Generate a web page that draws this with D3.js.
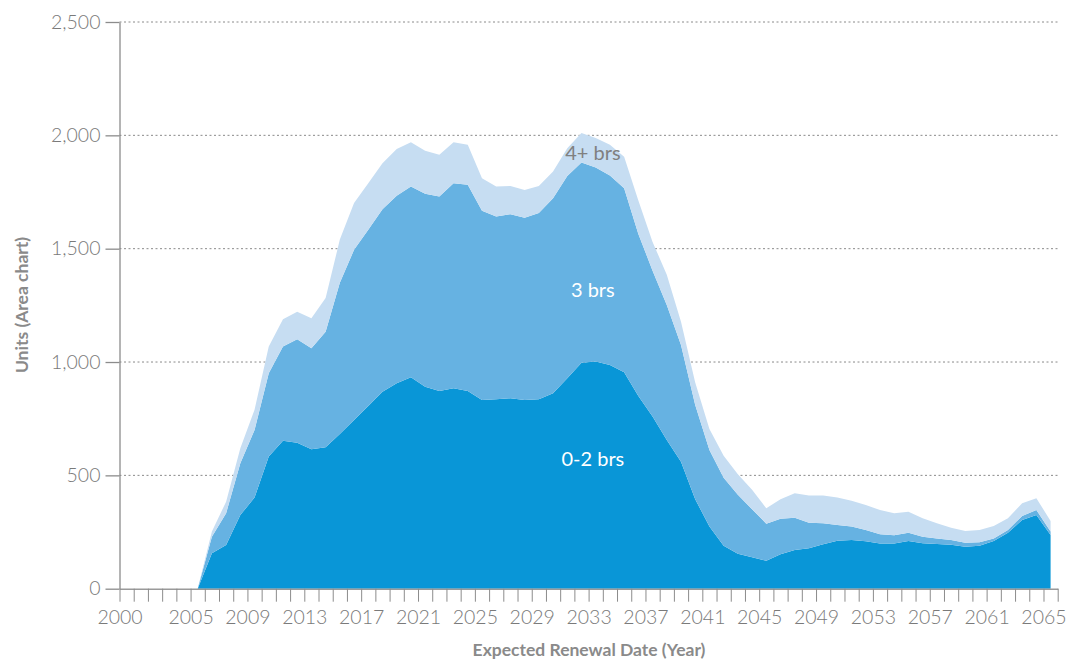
<!DOCTYPE html>
<html>
<head>
<meta charset="utf-8">
<script src="https://cdn.jsdelivr.net/npm/d3@7"></script>
<style>
  html, body { margin: 0; padding: 0; background: #fff; }
  svg { display: block; }
  text { font-family: Lato, "Open Sans", sans-serif; }
</style>
</head>
<body>
<svg id="chart" width="1070" height="659"></svg>
<script>
// ---- Data ----
const years = [
  2005,2006,2007,2008,2009,2010,2011,2012,2013,2014,
  2015,2016,2017,2018,2019,2020,2021,2022,2023,2024,
  2025,2026,2027,2028,2029,2030,2031,2032,2033,2034,
  2035,2036,2037,2038,2039,2040,2041,2042,2043,2044,
  2045,2046,2047,2048,2049,2050,2051,2052,2053,2054,
  2055,2056,2057,2058,2059,2060,2061,2062,2063,2064,2065
];
const zeroTwoBrs = [
  0,156,193,325,402,583,653,644,615,624,
  682,744,806,869,906,933,891,872,884,872,
  833,836,840,833,836,862,928,997,1002,987,
  955,850,760,656,560,395,274,190,154,139,
  123,152,171,178,196,212,215,209,199,199,
  210,200,197,194,185,190,210,247,303,325,237
];
const threeBrs = [
  0,73,140,228,298,367,415,457,446,510,
  668,751,777,805,827,841,851,858,905,910,
  834,806,812,804,821,861,893,883,856,836,
  812,715,643,596,515,415,338,300,260,212,
  164,157,142,113,93,69,59,50,41,37,
  37,29,24,21,18,15,12,12,18,22,15
];
const fourPlusBrs = [
  0,23,51,67,89,118,121,121,132,148,
  190,206,206,203,207,196,190,184,181,176,
  144,132,125,122,120,117,122,130,130,135,
  139,147,127,133,103,100,93,97,91,85,
  68,86,108,120,122,121,114,110,107,97,
  93,82,68,54,52,54,55,52,56,52,47
];
const seriesKeys = ["0-2 brs", "3 brs", "4+ brs"];
const seriesColors = ["#0996d7", "#66b2e2", "#c6ddf2"];
const yTicks = [0, 500, 1000, 1500, 2000, 2500];
const xTickLabels = [2000,2005,2009,2013,2017,2021,2025,2029,2033,2037,2041,2045,2049,2053,2057,2061,2065];
const xTickYears = d3.range(2000, 2067);

// ---- Build table ----
const rows = years.map((y, i) => ({
  year: y,
  "0-2 brs": zeroTwoBrs[i],
  "3 brs": threeBrs[i],
  "4+ brs": fourPlusBrs[i]
}));
const stacked = d3.stack().keys(seriesKeys)(rows);

// ---- Scales ----
const svg = d3.select("#chart");
const x = d3.scaleLinear().domain([2000, 2066]).range([119.5, 1057.7]);
const y = d3.scaleLinear().domain([0, 2500]).range([588.7, 22]);
const px = d => x(d.data.year + 0.5);

// ---- Gridlines ----
svg.append("g")
  .selectAll("line")
  .data(yTicks.filter(v => v > 0))
  .join("line")
  .attr("x1", x(2000)).attr("x2", 1060)
  .attr("y1", d => y(d)).attr("y2", d => y(d))
  .attr("stroke", "#8a8a8a")
  .attr("stroke-width", 1)
  .attr("stroke-dasharray", "2,2.5");

// ---- Areas ----
const area = d3.area()
  .x(px)
  .y0(d => y(d[0]))
  .y1(d => y(d[1]));

svg.append("g")
  .selectAll("path")
  .data(stacked)
  .join("path")
  .attr("fill", (d, i) => seriesColors[i])
  .attr("d", area);

// ---- Axes ----
const tickFont = "Lato, 'Open Sans', sans-serif";
const yAxis = d3.axisLeft(y)
  .tickValues(yTicks)
  .tickSize(14)
  .tickSizeOuter(0)
  .tickPadding(5)
  .tickFormat(d3.format(","));
const gy = svg.append("g").attr("transform", `translate(${x(2000)},0)`).call(yAxis);
gy.select(".domain").attr("stroke", "#8c8c8c").attr("stroke-width", 1.3);
gy.selectAll(".tick line").attr("stroke", "#8c8c8c").attr("stroke-width", 1.3);
gy.selectAll(".tick text")
  .attr("fill", "#7a7a7a")
  .attr("font-size", 19.5)
  .attr("font-weight", 300)
  .style("font-family", tickFont);

const xAxis = d3.axisBottom(x)
  .tickValues(xTickYears)
  .tickSize(13)
  .tickSizeOuter(0)
  .tickPadding(8)
  .tickFormat(d => xTickLabels.includes(d) ? String(d) : "");
const gx = svg.append("g").attr("transform", `translate(0,${y(0)})`).call(xAxis);
gx.select(".domain").attr("stroke", "#9a9a9a").attr("stroke-width", 1.6);
gx.selectAll(".tick line").attr("stroke", "#8c8c8c").attr("stroke-width", 1);
gx.selectAll(".tick text")
  .attr("fill", "#7a7a7a")
  .attr("font-size", 19.5)
  .attr("font-weight", 300)
  .style("font-family", tickFont);

// ---- Axis titles ----
svg.append("text")
  .attr("transform", `translate(28,305) rotate(-90)`)
  .attr("text-anchor", "middle")
  .attr("fill", "#8a8a8a")
  .attr("font-size", 17.5)
  .attr("font-weight", 700)
  .text("Units (Area chart)");

svg.append("text")
  .attr("x", 589).attr("y", 656)
  .attr("text-anchor", "middle")
  .attr("fill", "#8a8a8a")
  .attr("font-size", 17.5)
  .attr("font-weight", 700)
  .text("Expected Renewal Date (Year)");

// ---- Series labels ----
const seriesLabels = [
  { text: "4+ brs", year: 2033.3, value: 1925, color: "#808080" },
  { text: "3 brs", year: 2033.3, value: 1320, color: "#ffffff" },
  { text: "0-2 brs", year: 2033.3, value: 575, color: "#ffffff" }
];
svg.append("g")
  .selectAll("text")
  .data(seriesLabels)
  .join("text")
  .attr("x", d => x(d.year))
  .attr("y", d => y(d.value))
  .attr("text-anchor", "middle")
  .attr("dominant-baseline", "central")
  .attr("fill", d => d.color)
  .attr("font-size", 20)
  .attr("font-weight", 400)
  .text(d => d.text);
</script>
</body>
</html>
